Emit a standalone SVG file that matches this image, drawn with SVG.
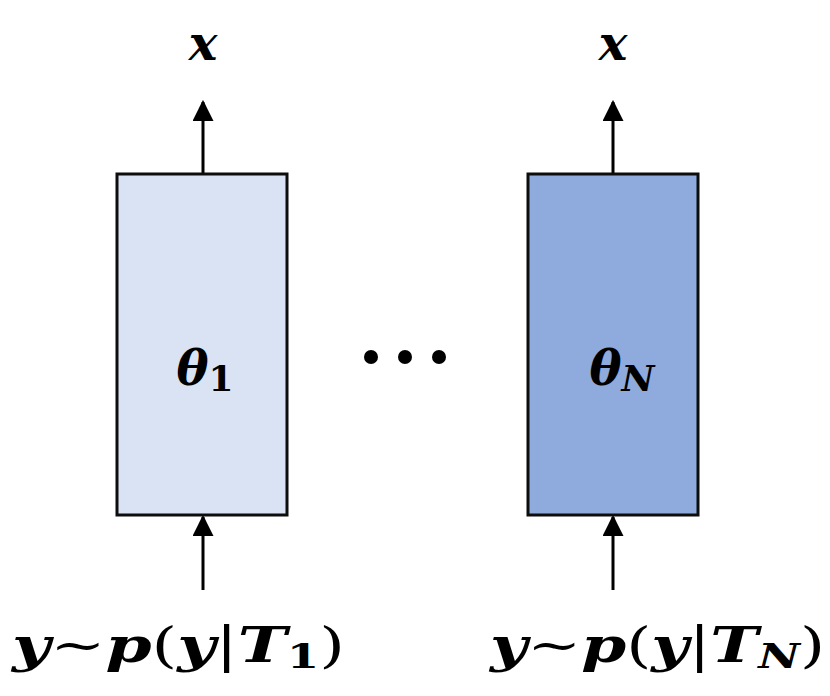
<svg xmlns="http://www.w3.org/2000/svg" width="830" height="696" viewBox="0 0 830 696">
<style>
.b{stroke:#0d0d0d;stroke-width:3}
.t{font-family:"DejaVu Serif","Liberation Serif",serif;font-weight:bold;fill:#000}
.i{font-style:italic}
.l{stroke:#000;stroke-width:3;fill:none}
</style>
<defs><marker id="a" viewBox="0 0 10 10" refX="9" refY="5" markerWidth="8" markerHeight="8" markerUnits="userSpaceOnUse" orient="auto"><path d="M0,0L10,5L0,10z" fill="#000"/></marker>
<marker id="m" viewBox="0 0 10 10" refX="9" refY="5" markerWidth="7" markerHeight="7" orient="auto"><path d="M0,0L10,5L0,10z" fill="#000"/></marker></defs>
<g id="connectors">
<line class="l" x1="203" y1="174" x2="203" y2="102" marker-end="url(#m)"/>
<line class="l" x1="203" y1="590" x2="203" y2="517" marker-end="url(#m)"/>
<line class="l" x1="613" y1="174" x2="613" y2="102" marker-end="url(#m)"/>
<line class="l" x1="613" y1="590" x2="613" y2="517" marker-end="url(#m)"/>
</g>
<g id="node1">
<rect class="b" x="117" y="174" width="170" height="341" fill="#DAE3F3"/>
<text class="t" x="205" y="385" text-anchor="middle" font-size="48"><tspan class="i">θ</tspan><tspan font-size="36" dy="6">1</tspan></text>
</g>
<g id="node2">
<rect class="b" x="528" y="174" width="170" height="341" fill="#8FAADC"/>
<text class="t" x="622" y="385" text-anchor="middle" font-size="48"><tspan class="i">θ</tspan><tspan class="i" font-size="36" dy="6">N</tspan></text>
</g>
<g id="dots" fill="#000"><circle cx="371" cy="357" r="7"/><circle cx="405" cy="357" r="7"/><circle cx="439" cy="357" r="7"/></g>
<g id="labels">
<text class="t i" x="203" y="60" text-anchor="middle" font-size="48">x</text>
<text class="t i" x="613" y="60" text-anchor="middle" font-size="48">x</text>
<text class="t" x="12" y="662" font-size="48" textLength="333" lengthAdjust="spacingAndGlyphs"><tspan class="i">y</tspan><tspan font-weight="normal">~</tspan><tspan class="i">p</tspan><tspan font-weight="normal">(</tspan><tspan class="i">y</tspan><tspan font-weight="normal">|</tspan><tspan class="i">T</tspan><tspan font-size="34" dy="6">1</tspan><tspan font-weight="normal" dy="-6">)</tspan></text>
<text class="t" x="490" y="662" font-size="48" textLength="335" lengthAdjust="spacingAndGlyphs"><tspan class="i">y</tspan><tspan font-weight="normal">~</tspan><tspan class="i">p</tspan><tspan font-weight="normal">(</tspan><tspan class="i">y</tspan><tspan font-weight="normal">|</tspan><tspan class="i">T</tspan><tspan class="i" font-size="34" dy="6">N</tspan><tspan font-weight="normal" dy="-6">)</tspan></text>
</g>
</svg>
